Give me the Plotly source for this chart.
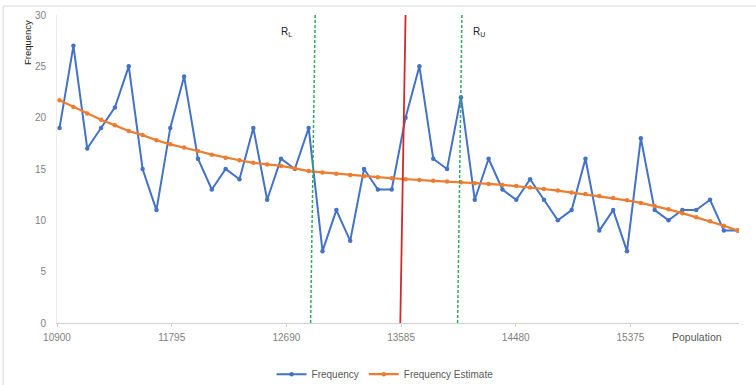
import plotly.graph_objects as go

# Population values (x) for each observation
population = [10920, 11028, 11136, 11244, 11352, 11460, 11568, 11676, 11784, 11892,
              12000, 12108, 12216, 12324, 12432, 12540, 12648, 12756, 12864, 12972,
              13080, 13188, 13296, 13404, 13512, 13620, 13728, 13836, 13944, 14052,
              14160, 14268, 14376, 14484, 14592, 14700, 14808, 14916, 15024, 15132,
              15240, 15348, 15456, 15564, 15672, 15780, 15888, 15996, 16104, 16212]

# Observed frequency
frequency = [19, 27, 17, 19, 21, 25, 15, 11, 19, 24,
             16, 13, 15, 14, 19, 12, 16, 15, 19, 7,
             11, 8, 15, 13, 13, 20, 25, 16, 15, 22,
             12, 16, 13, 12, 14, 12, 10, 11, 16, 9,
             11, 7, 18, 11, 10, 11, 11, 12, 9, 9]

# Fitted frequency estimate
frequency_estimate = [21.7, 21.05, 20.4, 19.8, 19.25, 18.7, 18.3, 17.8, 17.4, 17.1,
                      16.75, 16.4, 16.1, 15.85, 15.6, 15.45, 15.3, 15.06, 14.8, 14.67,
                      14.54, 14.42, 14.3, 14.2, 14.1, 14.0, 13.92, 13.85, 13.78, 13.72,
                      13.62, 13.55, 13.45, 13.34, 13.2, 13.05, 12.9, 12.72, 12.56, 12.37,
                      12.17, 11.95, 11.7, 11.4, 11.07, 10.7, 10.3, 9.9, 9.47, 9.0]

# Axis ticks
x_tick_values = [10900, 11795, 12690, 13585, 14480, 15375]
x_tick_labels = ["10900", "11795", "12690", "13585", "14480", "15375"]
y_tick_values = [0, 5, 10, 15, 20, 25, 30]

# Region boundaries: (bottom x, top x)
lower_bound = (12879, 12915)
centre_line = (13579, 13620)
upper_bound = (14026, 14060)

BLUE = "#4472C4"
ORANGE = "#ED7D31"
GREEN = "#2EAD5B"
RED = "#D02B2B"
FONT = "Liberation Sans"

fig = go.Figure()

fig.add_trace(go.Scatter(
    x=population, y=frequency, mode="lines+markers", name="Frequency",
    line=dict(color=BLUE, width=2),
    marker=dict(color=BLUE, size=4.5, symbol="circle"),
))
fig.add_trace(go.Scatter(
    x=population, y=frequency_estimate, mode="lines+markers", name="Frequency Estimate",
    line=dict(color=ORANGE, width=2.2),
    marker=dict(color=ORANGE, size=4.5, symbol="circle"),
))

shapes = [
    dict(type="line", xref="x", yref="y", x0=lower_bound[0], y0=0, x1=lower_bound[1], y1=30.1,
         line=dict(color=GREEN, width=1.5, dash="3px,2px")),
    dict(type="line", xref="x", yref="y", x0=upper_bound[0], y0=0, x1=upper_bound[1], y1=30.1,
         line=dict(color=GREEN, width=1.5, dash="3px,2px")),
    dict(type="line", xref="x", yref="y", x0=centre_line[0], y0=0, x1=centre_line[1], y1=30,
         line=dict(color=RED, width=1.8)),
    # chart frame
    dict(type="line", xref="paper", yref="paper", x0=-0.079, y0=1.029, x1=1.05, y1=1.029,
         line=dict(color="#d9d9d9", width=1)),
    dict(type="line", xref="paper", yref="paper", x0=-0.079, y0=1.029, x1=-0.079, y1=-0.21,
         line=dict(color="#d9d9d9", width=1)),
]

annotations = [
    dict(x=12689, y=28.3, xref="x", yref="y", text="R<sub>L</sub>", showarrow=False,
         font=dict(family=FONT, size=10, color="#222222")),
    dict(x=14195, y=28.3, xref="x", yref="y", text="R<sub>U</sub>", showarrow=False,
         font=dict(family=FONT, size=10, color="#222222")),
    dict(x=-0.0435, y=0.91, xref="paper", yref="paper", text="Frequency", textangle=-90,
         xanchor="center", yanchor="middle",
         showarrow=False, font=dict(family=FONT, size=9.5, color="#222222")),
    dict(x=0.938, y=-0.045, xref="paper", yref="paper", text="Population", showarrow=False,
         xanchor="center", yanchor="middle",
         font=dict(family=FONT, size=10.5, color="#595959")),
]

fig.update_layout(
    width=756, height=385,
    margin=dict(l=57, r=17, t=15, b=62, autoexpand=False),
    paper_bgcolor="white", plot_bgcolor="white",
    font=dict(family=FONT, size=10, color="#7f7f7f"),
    showlegend=True,
    legend=dict(orientation="h", x=0.481, xanchor="center", y=-0.166, yanchor="middle",
                font=dict(family=FONT, size=10, color="#595959"), itemwidth=30,
                bgcolor="rgba(0,0,0,0)"),
    shapes=shapes,
    annotations=annotations,
)

fig.update_xaxes(
    range=[10900, 16222], tickvals=x_tick_values, ticktext=x_tick_labels,
    showgrid=False, zeroline=False, showline=True, linecolor="#d0d0d0", linewidth=1,
    ticks="outside", ticklen=3, tickcolor="#d0d0d0", ticklabelstandoff=2,
    tickfont=dict(family=FONT, size=10, color="#7f7f7f"),
)
fig.update_yaxes(
    range=[0, 30], tickvals=y_tick_values,
    showgrid=False, zeroline=False, showline=True, linecolor="#ececec", linewidth=1,
    ticks="", ticklabelstandoff=8,
    tickfont=dict(family=FONT, size=10, color="#7f7f7f"),
)

fig.write_html("out.html")
